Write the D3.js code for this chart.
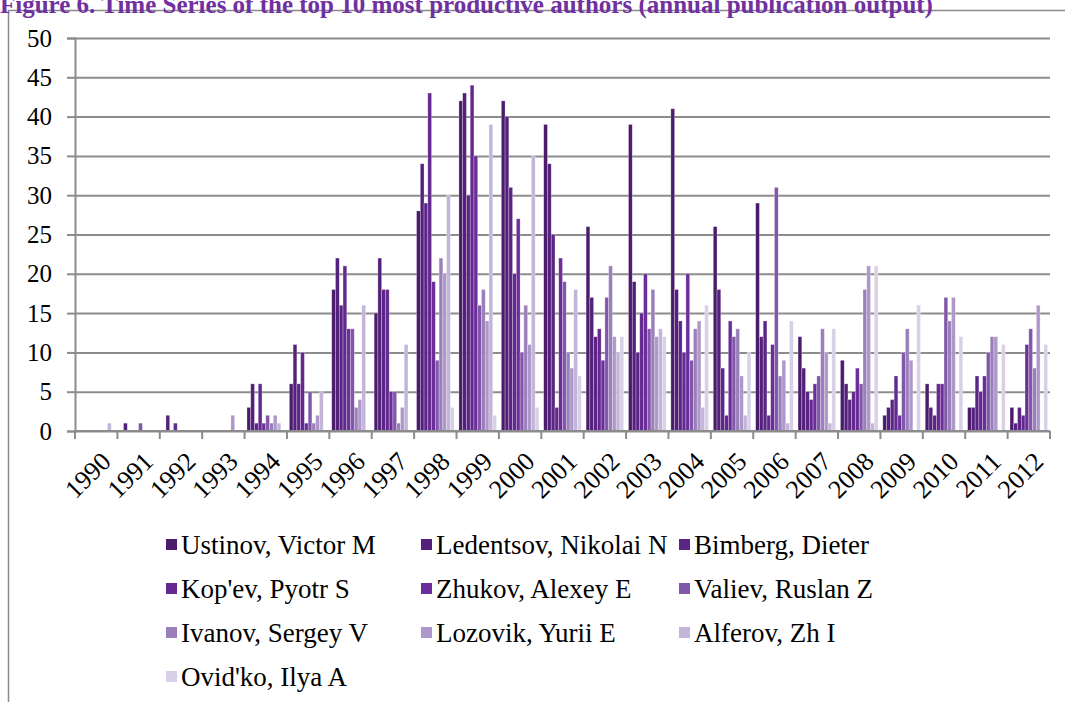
<!DOCTYPE html>
<html>
<head>
<meta charset="utf-8">
<script src="https://cdn.jsdelivr.net/npm/d3@7"></script>
<style>
    body { margin: 0; background: #fff; }
    text { font-family: 'Liberation Serif', 'DejaVu Serif', serif; }
</style>
</head>
<body>
<div id="chart"></div>
<script>
// Data
const years = ['1990', '1991', '1992', '1993', '1994', '1995', '1996', '1997', '1998', '1999', '2000',
    '2001', '2002', '2003', '2004', '2005', '2006', '2007', '2008', '2009', '2010', '2011', '2012']

const authors = ['Ustinov, Victor M', 'Ledentsov, Nikolai N', 'Bimberg, Dieter', "Kop'ev, Pyotr S",
    'Zhukov, Alexey E', 'Valiev, Ruslan Z', 'Ivanov, Sergey V', 'Lozovik, Yurii E', 'Alferov, Zh I', "Ovid'ko, Ilya A"]

const ustinov   = [0, 0, 0, 0, 3, 6, 18, 15, 28, 42, 42, 39, 26, 39, 41, 26, 29, 12, 9, 2, 6, 3, 3]
const ledentsov = [0, 1, 2, 0, 6, 11, 22, 22, 34, 43, 40, 34, 17, 19, 18, 18, 12, 8, 6, 3, 3, 3, 1]
const bimberg   = [0, 0, 0, 0, 1, 6, 16, 18, 29, 30, 31, 25, 12, 10, 14, 8, 14, 5, 4, 4, 2, 7, 3]
const kopev     = [0, 0, 1, 0, 6, 10, 21, 18, 43, 44, 20, 3, 13, 15, 10, 2, 2, 4, 5, 7, 6, 5, 2]
const zhukov    = [0, 0, 0, 0, 1, 1, 13, 5, 19, 35, 27, 22, 9, 20, 20, 14, 11, 6, 8, 2, 6, 7, 11]
const valiev    = [0, 1, 0, 0, 2, 5, 13, 5, 9, 16, 10, 19, 17, 13, 9, 12, 31, 7, 6, 10, 17, 10, 13]
const ivanov    = [0, 0, 0, 0, 1, 1, 3, 1, 22, 18, 16, 10, 21, 18, 13, 13, 7, 13, 18, 13, 14, 12, 8]
const lozovik   = [0, 0, 0, 2, 2, 2, 4, 3, 20, 14, 11, 8, 12, 12, 14, 7, 9, 10, 21, 9, 17, 12, 16]
const alferov   = [1, 0, 0, 0, 1, 5, 16, 11, 30, 39, 35, 18, 10, 13, 3, 2, 1, 1, 1, 0, 0, 0, 0]
const ovidko    = [0, 0, 0, 0, 0, 0, 0, 0, 3, 2, 3, 7, 12, 12, 16, 10, 14, 13, 21, 16, 12, 11, 11]

const seriesValues = [ustinov, ledentsov, bimberg, kopev, zhukov, valiev, ivanov, lozovik, alferov, ovidko]

const yTicks = [0, 5, 10, 15, 20, 25, 30, 35, 40, 45, 50]

const colors = ['#4b1c6c', '#53217b', '#5b2586', '#63298f', '#6b2d99',
    '#8158a9', '#9a7fba', '#ad98c9', '#c2b5d9', '#d7d0e6']

const width = 1065
const height = 702
const plotLeft = 75
const plotRight = 1050
const plotTop = 38
const plotBottom = 431

let svg = d3.select('#chart')
            .append('svg')
            .attr('width', width)
            .attr('height', height)

// Frame around the chart
svg.append('path')
    .attr('d', `M8.5,${height} V10.5 H${width}`)
    .attr('fill', 'none')
    .attr('stroke', '#8a8a8a')
    .attr('stroke-width', 1.5)

// Title (the source crops it at the top edge)
svg.append('text')
    .attr('x', 0)
    .attr('y', 13)
    .attr('fill', '#7030a0')
    .attr('font-size', '25px')
    .attr('font-weight', 'bold')
    .text('Figure 6. Time Series of the top 10 most productive authors (annual publication output)')

// Scales
let x0 = d3.scaleBand().domain(years).range([plotLeft, plotRight])
let x1 = d3.scaleBand().domain(d3.range(authors.length)).range([2.4, x0.bandwidth() - 2.4])
let yScale = d3.scaleLinear().domain([0, 50]).range([plotBottom, plotTop])

// Gridlines
svg.append('g')
    .attr('transform', `translate(${plotLeft},0)`)
    .call(d3.axisLeft(yScale).tickValues(yTicks).tickSize(-(plotRight - plotLeft)).tickFormat(''))
    .call(g => g.select('.domain').remove())
    .selectAll('line')
    .attr('stroke', '#8c8c8c')
    .attr('stroke-width', 2)

// Bars
let groups = svg.append('g').selectAll('g')
    .data(years)
    .enter()
    .append('g')
    .attr('transform', (d) => `translate(${x0(d)},0)`)

groups.selectAll('rect')
    .data((d, i) => seriesValues.map((s, k) => ({ k: k, v: s[i] })).filter(p => p.v > 0))
    .enter()
    .append('rect')
    .attr('x', (p) => x1(p.k))
    .attr('width', x1.bandwidth())
    .attr('y', (p) => yScale(p.v))
    .attr('height', (p) => plotBottom - yScale(p.v))
    .attr('fill', (p) => colors[p.k])
    .attr('stroke', 'rgba(255,255,255,0.45)')
    .attr('stroke-width', 0.6)

// Y axis
let yAxis = svg.append('g')
    .attr('transform', `translate(${plotLeft},0)`)
    .call(d3.axisLeft(yScale).tickValues(yTicks).tickSize(8).tickPadding(15))
yAxis.select('.domain').attr('stroke', '#8c8c8c').attr('stroke-width', 2)
yAxis.selectAll('line').attr('stroke', '#8c8c8c').attr('stroke-width', 2)
yAxis.selectAll('text')
    .attr('font-size', '25px')
    .attr('fill', '#000')
    .attr('font-family', "'Liberation Serif', serif")

// X axis: line plus boundary ticks
let xAxis = svg.append('g')
    .attr('transform', `translate(0,${plotBottom})`)
    .call(d3.axisBottom(x0).tickSize(0).tickPadding(0))
xAxis.select('.domain').remove()
xAxis.append('line')
    .attr('x1', plotLeft).attr('x2', plotRight)
    .attr('stroke', '#8c8c8c').attr('stroke-width', 2)
xAxis.selectAll('.boundary')
    .data(years.concat(['end']))
    .enter()
    .append('line')
    .attr('class', 'boundary')
    .attr('x1', (d) => d === 'end' ? plotRight : x0(d))
    .attr('x2', (d) => d === 'end' ? plotRight : x0(d))
    .attr('y1', 0)
    .attr('y2', 8)
    .attr('stroke', '#8c8c8c')
    .attr('stroke-width', 2)
xAxis.selectAll('.tick text')
    .attr('font-size', '26px')
    .attr('fill', '#000')
    .attr('font-family', "'Liberation Serif', serif")
    .attr('text-anchor', 'end')
    .attr('y', 0)
    .attr('dy', 0)
    .attr('transform', `translate(${x0.bandwidth() / 2 - 5},32) rotate(-45)`)

// Legend
const legendCols = [166, 421, 679]
const legendRows = [545, 589, 633, 677]

let legend = svg.append('g').selectAll('g')
    .data(authors)
    .enter()
    .append('g')
    .attr('transform', (d, i) => `translate(${legendCols[i % 3]},${legendRows[Math.floor(i / 3)]})`)

legend.append('rect')
    .attr('x', 0)
    .attr('y', -6)
    .attr('width', 11)
    .attr('height', 11)
    .attr('fill', (d, i) => colors[i])

legend.append('text')
    .attr('x', 15)
    .attr('y', 9)
    .attr('font-size', '27px')
    .attr('fill', '#000')
    .text((d) => d)
</script>
</body>
</html>
